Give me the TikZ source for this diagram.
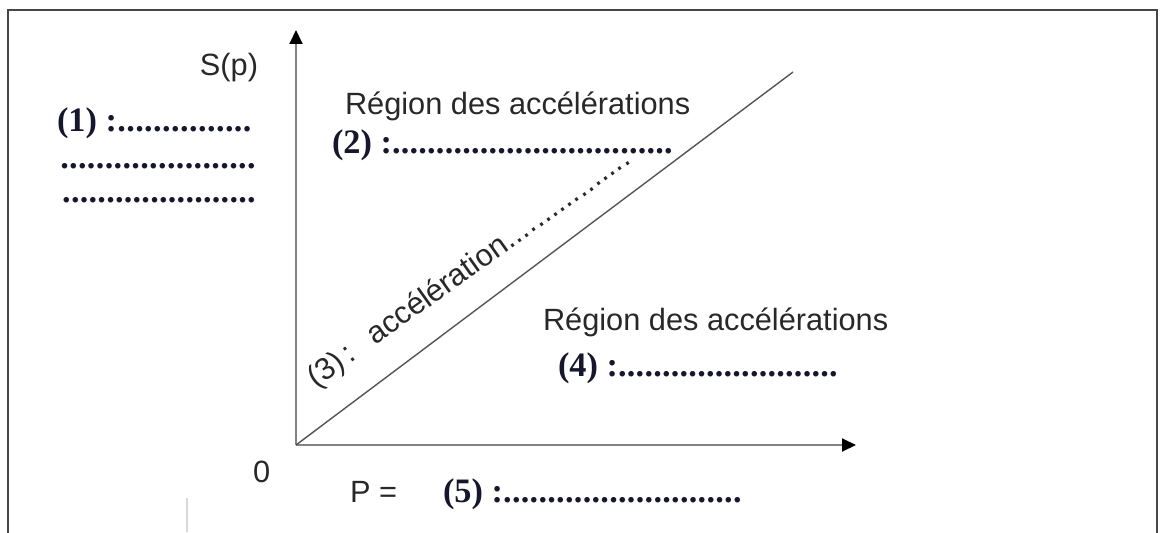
\documentclass[tikz,border=0pt]{standalone}
\usepackage{fontspec}
\setmainfont{Liberation Sans}
\newfontfamily\lblfont{Liberation Serif}
\usetikzlibrary{arrows.meta}
\definecolor{txt}{RGB}{40,40,40}
\definecolor{lblc}{RGB}{22,22,45}
\definecolor{axisgray}{RGB}{130,130,130}
\definecolor{diaggray}{RGB}{85,85,85}
\definecolor{framec}{RGB}{70,70,70}
\newcommand\fillline[2]{\hbox to #1{#2\xleaders\hbox{.}\hfill}}
\begin{document}
\begin{tikzpicture}[x=0.02cm,y=0.02cm,
  every node/.style={inner sep=0pt, outer sep=0pt, font=\fontsize{17.5}{20}\selectfont, text=txt},
  lab/.style={font=\lblfont\bfseries\fontsize{19.5}{22}\selectfont, text=lblc},
  axis/.style={line width=1.1pt, draw=axisgray, -{Triangle[length=0.28cm,width=0.26cm,color=black]}},
  diag/.style={line width=0.8pt, draw=diaggray},
  frame/.style={line width=1.3pt, draw=framec},
]
\useasboundingbox (0,0) rectangle (1160,532);
% frame (open at the bottom)
\coordinate (f1) at (8,-2);
\coordinate (f2) at (8,522);
\coordinate (f3) at (1157,522);
\coordinate (f4) at (1157,-2);
\draw[frame] (f1) -- (f2) -- (f3) -- (f4);
% faint artefact
\coordinate (a1) at (187,0);
\coordinate (a2) at (187,34);
\draw[line width=0.6pt, draw=black!15] (a1) -- (a2);
% axes
\coordinate (O) at (296,87);
\coordinate (ytip) at (296,502);
\coordinate (xtip) at (856,87);
\coordinate (dend) at (793,460);
\draw[axis] (O) -- (ytip);
\draw[axis] (O) -- (xtip);
\draw[diag] (O) -- (dend);
% labels
\node[anchor=base east] (sp) at (258,457) {S(p)};
\node[anchor=base west, lab] (l1) at (57,401) {\fillline{3.9cm}{(1) :}};
\node[anchor=base west, lab] (l1b) at (60,364) {\fillline{3.92cm}{}};
\node[anchor=base west, lab] (l1c) at (62,330) {\fillline{3.88cm}{}};
\node[anchor=base west] (r1) at (345,418) {Région des accélérations};
\node[anchor=base west, lab] (l2) at (332,379) {\fillline{6.82cm}{(2) :}};
\node[anchor=base west, rotate=35.5] (l3) at (316,144) {(3)\,:\hspace{0.7em}accélération\fillline{3.0cm}{}};
\node[anchor=base west] (r2) at (543,202) {Région des accélérations};
\node[anchor=base west, lab] (l4) at (558,156) {\fillline{5.6cm}{(4) :}};
\node[anchor=base west] (zero) at (253,50) {0};
\node[anchor=base west] (peq) at (350,30) {P =};
\node[anchor=base west, lab] (l5) at (443,30) {\fillline{5.98cm}{(5) :}};
\end{tikzpicture}
\end{document}
